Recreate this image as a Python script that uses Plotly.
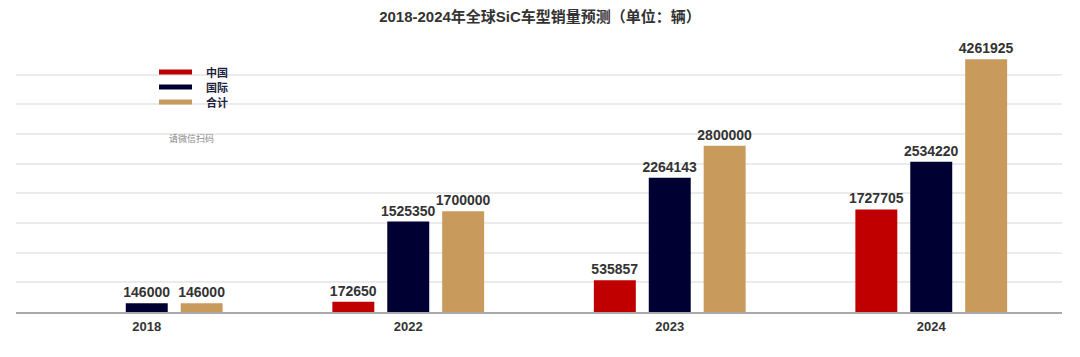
import plotly.graph_objects as go

years = ["2018", "2022", "2023", "2024"]
china = [None, 172650, 535857, 1727705]
intl = [146000, 1525350, 2264143, 2534220]
total = [146000, 1700000, 2800000, 4261925]

series_names = ["中国", "国际", "合计"]
colors = ["#C00000", "#000033", "#C89A5C"]

W, H = 1080, 357
ML, MR, MT, MB = 16, 18, 45, 44.5
pw, ph = W - ML - MR, H - MT - MB

def px(x):
    return (x - ML) / pw

def py(y):
    return (H - MB - y) / ph

fig = go.Figure()
for name, vals, col in zip(series_names, [china, intl, total], colors):
    fig.add_trace(go.Bar(
        x=years, y=vals, name=name, marker=dict(color=col, line=dict(width=0)),
        text=[("" if v is None else str(v)) for v in vals],
        textposition="outside", cliponaxis=False, constraintext="none",
        textfont=dict(family="Liberation Sans, Arial", size=14, color="#333333", weight="bold"),
        showlegend=False,
    ))

shapes = []
annotations = []
legend_y = [72, 87, 102]
for name, col, yy in zip(series_names, colors, legend_y):
    shapes.append(dict(type="rect", xref="paper", yref="paper",
                       x0=px(159), x1=px(192), y0=py(yy + 2.5), y1=py(yy - 2.5),
                       fillcolor=col, line=dict(width=0)))
    annotations.append(dict(xref="paper", yref="paper", x=px(204), y=py(yy),
                            xanchor="left", yanchor="middle", showarrow=False, text=name,
                            font=dict(family="Noto Sans CJK SC", size=11, color="#1f1f3f", weight="bold")))

annotations.append(dict(xref="paper", yref="paper", x=px(191), y=py(139),
                        xanchor="center", yanchor="middle", showarrow=False, text="请微信扫码",
                        font=dict(family="Noto Sans CJK SC", size=9, color="#888888")))

fig.update_layout(
    width=W, height=H,
    margin=dict(l=ML, r=MR, t=MT, b=MB),
    paper_bgcolor="white", plot_bgcolor="white",
    title=dict(text="<b>2018-2024年全球SiC车型销量预测（单位：辆）</b>", x=0.5, xanchor="center",
               y=1 - 17 / H, yanchor="middle",
               font=dict(family="Liberation Sans, Noto Sans CJK SC", size=15, color="#333333")),
    barmode="group", bargap=0.37, bargroupgap=0.236,
    xaxis=dict(showgrid=False, showline=True, linecolor="#aaaaaa", linewidth=2,
               tickfont=dict(family="Liberation Sans, Arial", size=13, color="#333333", weight="bold"),
               ticks="", ticklabelstandoff=1, fixedrange=True),
    yaxis=dict(range=[0, 4500000], dtick=500000, showgrid=True, gridcolor="#ebebeb", gridwidth=1.5,
               showticklabels=False, zeroline=False, fixedrange=True),
    shapes=shapes, annotations=annotations,
)

fig.write_html("out.html", config={"displayModeBar": False},
               post_script="document.body.style.margin='0';document.body.style.overflow='hidden';")
